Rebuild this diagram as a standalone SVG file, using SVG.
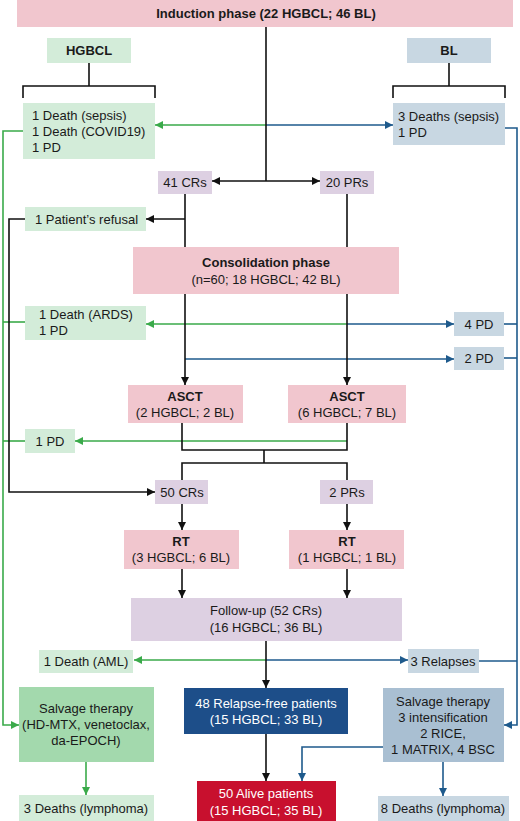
<svg xmlns="http://www.w3.org/2000/svg" width="520" height="821" viewBox="0 0 520 821">
<defs>
<style>
text{font-family:"Liberation Sans",Arial,Helvetica,sans-serif;font-size:13px;fill:#1a1a1a}
.b{font-weight:bold}
.c{text-anchor:middle}
.w{fill:#ffffff}
.pink{fill:#f1c6ce}
.lg{fill:#d3ecd9}
.dg{fill:#a3d9ad}
.lb{fill:#c8d7e2}
.db{fill:#a9bfd2}
.pu{fill:#ddd0e2}
.navy{fill:#1d4e89}
.red{fill:#c8102e}
.k{fill:none;stroke:#111;stroke-width:1.6}
.g{fill:none;stroke:#3aaa4a;stroke-width:1.6}
.u{fill:none;stroke:#1e5a8c;stroke-width:1.6}
</style>
<marker id="ak" viewBox="0 0 8 8" refX="8" refY="4" markerWidth="8" markerHeight="8" markerUnits="userSpaceOnUse" orient="auto"><path d="M0,0 L8,4 L0,8 z" fill="#111"/></marker>
<marker id="ag" viewBox="0 0 8 8" refX="8" refY="4" markerWidth="8" markerHeight="8" markerUnits="userSpaceOnUse" orient="auto"><path d="M0,0 L8,4 L0,8 z" fill="#3aaa4a"/></marker>
<marker id="au" viewBox="0 0 8 8" refX="8" refY="4" markerWidth="8" markerHeight="8" markerUnits="userSpaceOnUse" orient="auto"><path d="M0,0 L8,4 L0,8 z" fill="#1e5a8c"/></marker>
</defs>
<rect width="520" height="821" fill="#ffffff"/>

<g id="connectors">
<g id="green">
<path class="g" d="M266,125 H155" marker-end="url(#ag)"/>
<path class="g" d="M23,131 H3 V725 H19" marker-end="url(#ag)"/>
<path class="g" d="M347,324 H146" marker-end="url(#ag)"/>
<path class="g" d="M25,322 H3"/>
<path class="g" d="M347,441 H75" marker-end="url(#ag)"/>
<path class="g" d="M25,441 H3"/>
<path class="g" d="M266,660 H134" marker-end="url(#ag)"/>
<path class="g" d="M86,762 V795" marker-end="url(#ag)"/>
</g>
<g id="blue">
<path class="u" d="M266,125 H393" marker-end="url(#au)"/>
<path class="u" d="M505,128 H517 V725 H504" marker-end="url(#au)"/>
<path class="u" d="M347,324 H454" marker-end="url(#au)"/>
<path class="u" d="M504,324 H517"/>
<path class="u" d="M185,359 H454" marker-end="url(#au)"/>
<path class="u" d="M504,358 H517"/>
<path class="u" d="M266,660 H408" marker-end="url(#au)"/>
<path class="u" d="M479,661 H517"/>
<path class="u" d="M383,747 H302 V781" marker-end="url(#au)"/>
<path class="u" d="M443,762 V796" marker-end="url(#au)"/>
</g>
<g id="black">
<path class="k" d="M89,63 V86 M23,98 V86 H155 V98"/>
<path class="k" d="M449,63 V86 M393,98 V86 H505 V98"/>
<path class="k" d="M266,27 V181"/>
<path class="k" d="M266,181 H212" marker-end="url(#ak)"/>
<path class="k" d="M266,181 H320" marker-end="url(#ak)"/>
<path class="k" d="M185,194 V247"/>
<path class="k" d="M185,219 H146" marker-end="url(#ak)"/>
<path class="k" d="M347,194 V247"/>
<path class="k" d="M25,219 H9 V492 H155" marker-end="url(#ak)"/>
<path class="k" d="M185,294 V385" marker-end="url(#ak)"/>
<path class="k" d="M347,294 V385" marker-end="url(#ak)"/>
<path class="k" d="M182,423 V450 H347 V423 M264,450 V463 M182,480 V463 H347 V480"/>
<path class="k" d="M182,504 V530" marker-end="url(#ak)"/>
<path class="k" d="M347,504 V530" marker-end="url(#ak)"/>
<path class="k" d="M182,569 V598" marker-end="url(#ak)"/>
<path class="k" d="M347,569 V598" marker-end="url(#ak)"/>
<path class="k" d="M266,641 V688" marker-end="url(#ak)"/>
<path class="k" d="M266,734 V781" marker-end="url(#ak)"/>
</g>
</g>

<g id="induction"><rect class="pink" x="17" y="0" width="496" height="27"/><text class="b c" x="266" y="18">Induction phase (22 HGBCL; 46 BL)</text></g>
<g id="hgbcl"><rect class="lg" x="47" y="38" width="84" height="25"/><text class="b c" x="89" y="55">HGBCL</text></g>
<g id="bl"><rect class="lb" x="407" y="38" width="84" height="25"/><text class="b c" x="449" y="55">BL</text></g>
<g id="hgbcl-induction-events"><rect class="lg" x="23" y="103" width="132" height="56"/>
<text x="32" y="120">1 Death (sepsis)</text><text x="32" y="136">1 Death (COVID19)</text><text x="32" y="152">1 PD</text></g>
<g id="bl-induction-events"><rect class="lb" x="393" y="103" width="112" height="42"/>
<text x="398" y="121">3 Deaths (sepsis)</text><text x="398" y="137">1 PD</text></g>
<g id="cr41"><rect class="pu" x="158" y="171" width="54" height="23"/><text class="c" x="185" y="187">41 CRs</text></g>
<g id="pr20"><rect class="pu" x="320" y="171" width="54" height="23"/><text class="c" x="347" y="187">20 PRs</text></g>
<g id="refusal"><rect class="lg" x="25" y="207" width="121" height="24"/><text x="35" y="224">1 Patient’s refusal</text></g>
<g id="consolidation"><rect class="pink" x="133" y="247" width="266" height="47"/>
<text class="b c" x="266" y="267">Consolidation phase</text><text class="c" x="266" y="284">(n=60; 18 HGBCL; 42 BL)</text></g>
<g id="ards"><rect class="lg" x="25" y="306" width="121" height="34"/>
<text x="39" y="319">1 Death (ARDS)</text><text x="39" y="335">1 PD</text></g>
<g id="pd4"><rect class="lb" x="454" y="312" width="50" height="24"/><text class="c" x="479" y="329">4 PD</text></g>
<g id="pd2"><rect class="lb" x="454" y="347" width="50" height="23"/><text class="c" x="479" y="363">2 PD</text></g>
<g id="asct-left"><rect class="pink" x="128" y="385" width="115" height="38"/>
<text class="b c" x="185" y="401">ASCT</text><text class="c" x="185" y="417">(2 HGBCL; 2 BL)</text></g>
<g id="asct-right"><rect class="pink" x="288" y="385" width="118" height="38"/>
<text class="b c" x="347" y="401">ASCT</text><text class="c" x="347" y="417">(6 HGBCL; 7 BL)</text></g>
<g id="pd1"><rect class="lg" x="25" y="429" width="50" height="24"/><text class="c" x="50" y="446">1 PD</text></g>
<g id="cr50"><rect class="pu" x="155" y="480" width="53" height="24"/><text class="c" x="182" y="497">50 CRs</text></g>
<g id="pr2"><rect class="pu" x="320" y="480" width="53" height="24"/><text class="c" x="347" y="497">2 PRs</text></g>
<g id="rt-left"><rect class="pink" x="124" y="530" width="115" height="39"/>
<text class="b c" x="181" y="546">RT</text><text class="c" x="181" y="562">(3 HGBCL; 6 BL)</text></g>
<g id="rt-right"><rect class="pink" x="289" y="530" width="115" height="39"/>
<text class="b c" x="347" y="546">RT</text><text class="c" x="347" y="562">(1 HGBCL; 1 BL)</text></g>
<g id="followup"><rect class="pu" x="131" y="598" width="271" height="43"/>
<text class="c" x="266" y="615">Follow-up (52 CRs)</text><text class="c" x="266" y="632">(16 HGBCL; 36 BL)</text></g>
<g id="aml"><rect class="lg" x="39" y="650" width="94" height="23"/><text class="c" x="86" y="666">1 Death (AML)</text></g>
<g id="relapses"><rect class="lb" x="408" y="649" width="71" height="24"/><text class="c" x="443" y="666">3 Relapses</text></g>
<g id="salvage-hgbcl"><rect class="dg" x="19" y="687" width="135" height="75"/>
<text class="c" x="86" y="713">Salvage therapy</text><text class="c" x="86" y="729">(HD-MTX, venetoclax,</text><text class="c" x="86" y="745">da-EPOCH)</text></g>
<g id="relapse-free"><rect class="navy" x="184" y="688" width="164" height="46"/>
<text class="c w" x="266" y="708">48 Relapse-free patients</text><text class="c w" x="266" y="724">(15 HGBCL; 33 BL)</text></g>
<g id="salvage-bl"><rect class="db" x="383" y="688" width="121" height="74"/>
<text class="c" x="443" y="706">Salvage therapy</text><text class="c" x="443" y="722">3 intensification</text><text class="c" x="443" y="738">2 RICE,</text><text class="c" x="443" y="754">1 MATRIX, 4 BSC</text></g>
<g id="deaths-hgbcl"><rect class="lg" x="19" y="795" width="135" height="26"/><text class="c" x="86" y="813">3 Deaths (lymphoma)</text></g>
<g id="alive"><rect class="red" x="197" y="781" width="139" height="40"/>
<text class="c w" x="266" y="798">50 Alive patients</text><text class="c w" x="266" y="815">(15 HGBCL; 35 BL)</text></g>
<g id="deaths-bl"><rect class="lb" x="378" y="796" width="131" height="25"/><text class="c" x="443" y="813">8 Deaths (lymphoma)</text></g>
</svg>
